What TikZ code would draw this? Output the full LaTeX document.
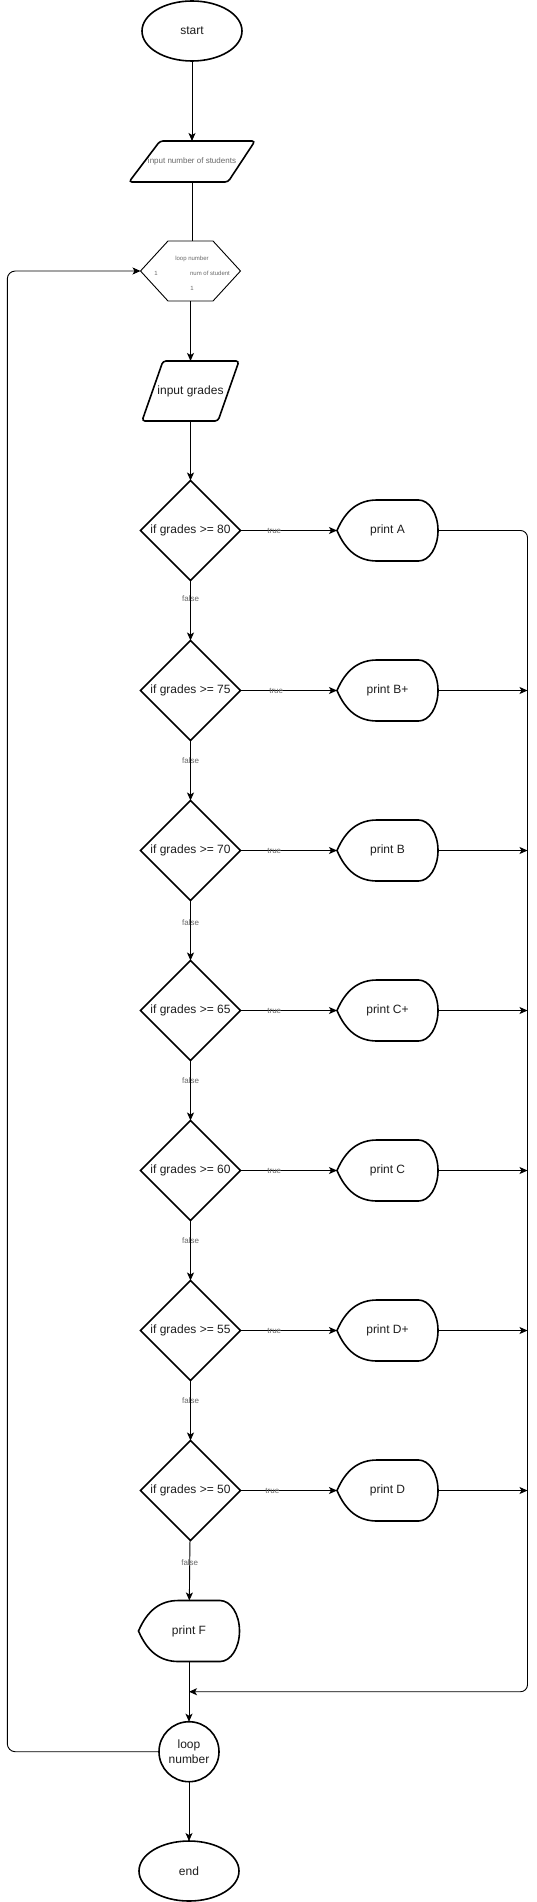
\documentclass[tikz,border=0pt]{standalone}
\usepackage{fontspec}
\setmainfont{Liberation Sans}
\usepackage{tikz}
\usetikzlibrary{arrows.meta,calc,shapes.geometric}
\definecolor{fcline}{RGB}{0,0,0}
\definecolor{fctext}{RGB}{30,30,30}
\definecolor{fcsoft}{RGB}{105,105,105}
\tikzset{
  sc/.style   ={draw=fcline, line width=0.9pt},
  shp/.style  ={draw=fcline, line width=1.6pt},
  lab/.style  ={font=\fontsize{12}{15}\selectfont, text=fctext, inner sep=0pt, outer sep=0pt},
  labs/.style ={font=\fontsize{8}{9}\selectfont, text=fcsoft, inner sep=0pt},
  labt/.style ={font=\fontsize{6}{7}\selectfont, text=fcsoft, inner sep=0pt},
  bx/.style   ={lab, rectangle, minimum width=101pt, minimum height=61pt},
  term/.style ={lab, shp, ellipse, minimum width=100pt, minimum height=60pt},
  cond/.style ={lab, shp, diamond, aspect=1, minimum width=100pt, minimum height=100pt},
  ptr/.style  ={draw=fcline, line width=0.9pt, -{Stealth[length=8pt,width=7pt,inset=2pt]}},
}
% outlines drawn on the anchors of a plain box
\newcommand{\parashape}[3]{%
  \draw[shp,rounded corners=3pt] ($(#1.north west)+(#2,0)$) -- (#1.north east)
    -- ($(#1.south east)-(#3,0)$) -- (#1.south west) -- cycle;}
\newcommand{\hexshape}[2]{%
  \draw[sc] (#1.west) -- ($(#1.north west)+(#2,0)$) -- ($(#1.north east)-(#2,0)$)
    -- (#1.east) -- ($(#1.south east)-(#2,0)$) -- ($(#1.south west)+(#2,0)$) -- cycle;}
\newcommand{\dispshape}[1]{%
  \draw[shp] (#1.west) .. controls ($(#1.west)+(9,-21)$) and ($(#1.north west)+(22,0)$) .. ($(#1.north west)+(40,0)$)
    -- ($(#1.north east)+(-19.5,0)$) arc[start angle=-90, end angle=90, x radius=19.5, y radius=30.5]
    -- ($(#1.south west)+(40,0)$) .. controls ($(#1.south west)+(22,0)$) and ($(#1.west)+(9,21)$) .. cycle;}

\begin{document}
\begin{tikzpicture}[x=1pt,y=-1pt]
  \fill[white] (0,0) rectangle (536,1902);
  \useasboundingbox (0,0) rectangle (536,1902);
  % start and inputs
  \node[term] (start) at (192,31) {start};
  \node[bx,labs,minimum width=126pt,minimum height=41pt] (insn) at (192,161.5) {input number of students};
  \parashape{insn}{31}{27}
  \node[bx,minimum width=100pt,minimum height=60pt] (hex) at (190.5,271) {};
  \hexshape{hex}{27.5}
  \node[labt] (hexa) at (192,259) {loop number};
  \node[labt] (hexb) at (156,273) {1};
  \node[labt] (hexc) at (210,273) {num of student};
  \node[labt] (hexd) at (192,288) {1};
  \node[bx,minimum width=97pt,minimum height=60pt] (ingr) at (190.5,391) {input grades};
  \parashape{ingr}{21}{21}
  % conditions
  \node[cond] (d1) at (190.5,530.5) {if grades >= 80};
  \node[cond] (d2) at (190.5,690.5) {if grades >= 75};
  \node[cond] (d3) at (190.5,850.5) {if grades >= 70};
  \node[cond] (d4) at (190.5,1010.5) {if grades >= 65};
  \node[cond] (d5) at (190.5,1170.5) {if grades >= 60};
  \node[cond] (d6) at (190.5,1330.5) {if grades >= 55};
  \node[cond] (d7) at (190.5,1490.5) {if grades >= 50};
  % outputs
  \node[bx] (p1) at (387.5,530.5) {print A};
  \node[bx] (p2) at (387.5,690.5) {print B+};
  \node[bx] (p3) at (387.5,850.5) {print B};
  \node[bx] (p4) at (387.5,1010.5) {print C+};
  \node[bx] (p5) at (387.5,1170.5) {print C};
  \node[bx] (p6) at (387.5,1330.5) {print D+};
  \node[bx] (p7) at (387.5,1490.5) {print D};
  \node[bx] (pF) at (189,1631) {print F};
  \dispshape{p1}
  \dispshape{p2}
  \dispshape{p3}
  \dispshape{p4}
  \dispshape{p5}
  \dispshape{p6}
  \dispshape{p7}
  \dispshape{pF}
  \node[lab,shp,circle,minimum size=60pt,align=center] (lpn) at (189,1751.7) {loop\\number};
  \node[term] (end) at (189,1871) {end};
  % connectors
  \coordinate (rgt) at (527.5,1691.7);
  \coordinate (join) at (189,1691.7);
  \coordinate (lft) at (7.3,1000);
  \draw[ptr] (start) -- (insn);
  \draw[sc] (insn.south) -- (insn.south |- hex.north);
  \draw[ptr] (hex) -- (ingr);
  \draw[ptr] (ingr) -- (d1);
  \draw[ptr] (d1) -- node[labs,pos=0.35] {true} (p1);
  \draw[ptr] (d2) -- node[labs,pos=0.37] {true} (p2);
  \draw[ptr] (d3) -- node[labs,pos=0.35] {true} (p3);
  \draw[ptr] (d4) -- node[labs,pos=0.35] {true} (p4);
  \draw[ptr] (d5) -- node[labs,pos=0.35] {true} (p5);
  \draw[ptr] (d6) -- node[labs,pos=0.35] {true} (p6);
  \draw[ptr] (d7) -- node[labs,pos=0.33] {true} (p7);
  \draw[ptr] (d1) -- node[labs,pos=0.31] {false} (d2);
  \draw[ptr] (d2) -- node[labs,pos=0.33] {false} (d3);
  \draw[ptr] (d3) -- node[labs,pos=0.37] {false} (d4);
  \draw[ptr] (d4) -- node[labs,pos=0.33] {false} (d5);
  \draw[ptr] (d5) -- node[labs,pos=0.33] {false} (d6);
  \draw[ptr] (d6) -- node[labs,pos=0.33] {false} (d7);
  \draw[ptr] (d7) -- node[labs,pos=0.37] {false} (pF);
  \draw[ptr,rounded corners=7pt] (p1.east) -| (rgt) -- (join);
  \draw[ptr] (p2.east) -- (p2.east -| rgt);
  \draw[ptr] (p3.east) -- (p3.east -| rgt);
  \draw[ptr] (p4.east) -- (p4.east -| rgt);
  \draw[ptr] (p5.east) -- (p5.east -| rgt);
  \draw[ptr] (p6.east) -- (p6.east -| rgt);
  \draw[ptr] (p7.east) -- (p7.east -| rgt);
  \draw[ptr] (pF) -- (lpn);
  \draw[ptr] (lpn) -- (end);
  \draw[ptr,rounded corners=8pt] (lpn.west) -- (lpn.west -| lft) |- (hex.west);
\end{tikzpicture}
\end{document}
